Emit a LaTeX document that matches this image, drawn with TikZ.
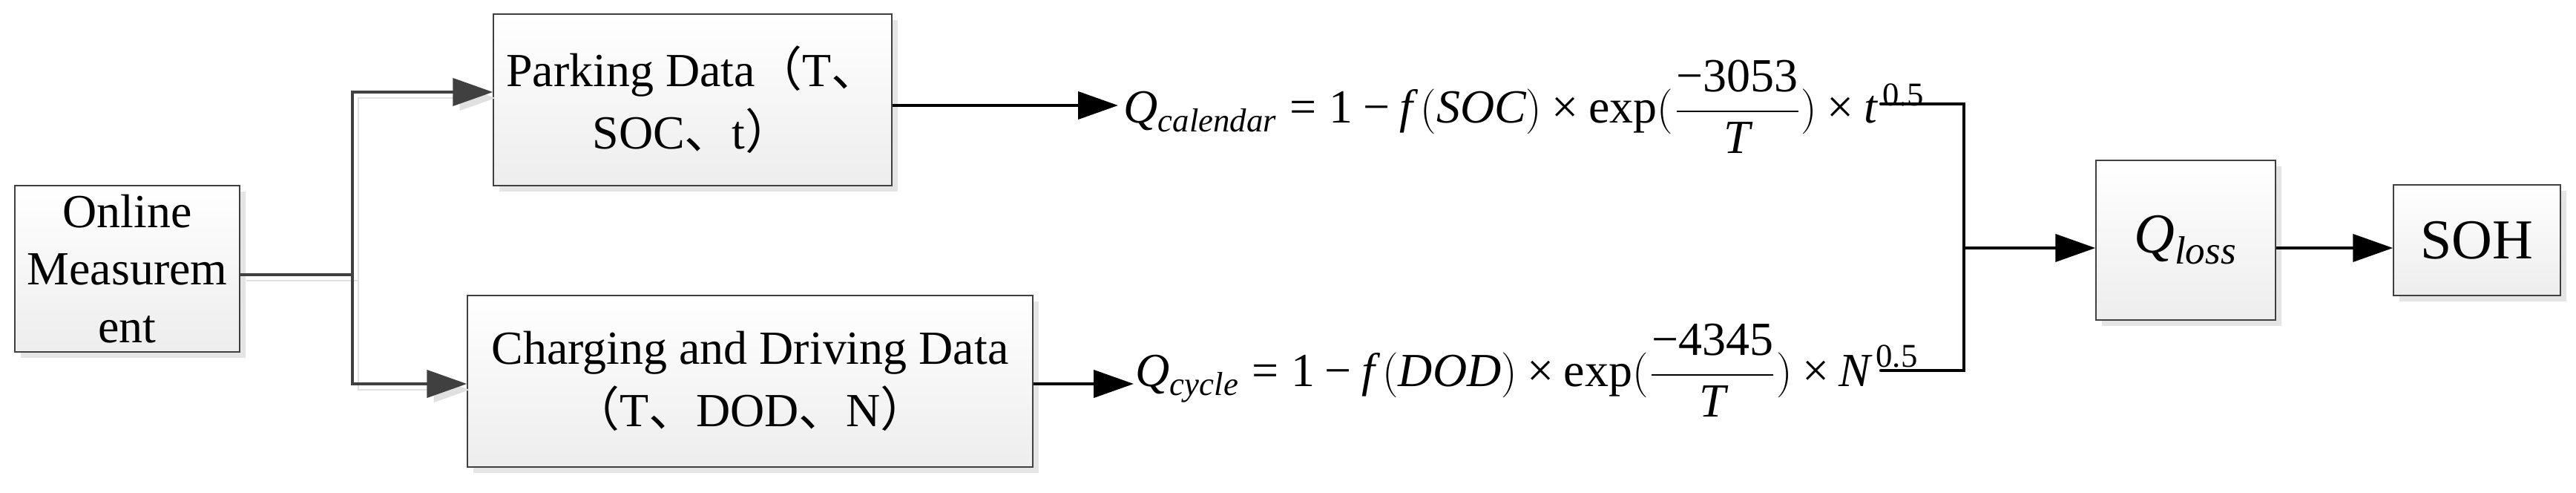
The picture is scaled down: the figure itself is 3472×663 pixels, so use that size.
\documentclass[tikz,border=0pt]{standalone}
\usepackage{amsmath}
\usepackage{fontspec}
\setmainfont{Liberation Serif}
\newfontfamily\cjk{Noto Sans CJK SC}
\usetikzlibrary{arrows.meta,shadows}
\newcommand{\teq}{\mathrel{\textrm{=}}}
\newcommand{\tminus}{\mathbin{\textrm{−}}}
\newcommand{\ttimes}{\mathbin{\textrm{×}}}

\begin{document}
\begin{tikzpicture}[x=0.1mm,y=-0.1mm,
  box/.style={draw=black!75,line width=0.15mm,top color=white,bottom color=black!7,
    drop shadow={shadow xshift=0.8mm,shadow yshift=-0.8mm,fill=black!10,opacity=1},
    align=center,inner sep=0pt,font=\fontsize{18.2pt}{24pt}\selectfont},
  bigbox/.style={box,font=\fontsize{21.6pt}{26pt}\selectfont},
  graywire/.style={draw=black!75,line width=0.42mm,-{Triangle[length=5.4mm,width=3.7mm]},
    preaction={draw=black!12,transform canvas={shift={(0.8mm,-0.8mm)}}}},
  blackwire/.style={draw=black,line width=0.42mm,-{Triangle[length=5.4mm,width=3.7mm]}},
  plainwire/.style={draw=black,line width=0.42mm,line cap=round},
  formula/.style={anchor=base west,inner sep=0pt,font=\fontsize{18.2pt}{22pt}\selectfont}]
\useasboundingbox (0,0) rectangle (3472,663);

\node [box,minimum width=30.3mm,minimum height=22.4mm,font=\fontsize{18.2pt}{22pt}\selectfont]
  (online) at (171.5,362) {Online\\Measurem\\ent};
\node [box,minimum width=53.7mm,minimum height=23.1mm] (parking) at (933.5,134.5)
  {Parking Data{\cjk （}T{\cjk 、}\\SOC{\cjk 、}t{\cjk ）}};
\node [box,minimum width=76.2mm,minimum height=23.1mm] (charging) at (1011,513.5)
  {Charging and Driving Data\\{\cjk （}T{\cjk 、}DOD{\cjk 、}N{\cjk ）}};
\node [bigbox,minimum width=24.2mm,minimum height=21.5mm] (qloss) at (2946,323.5)
  {$\textit{Q}_{\textit{loss}}$};
\node [bigbox,minimum width=22.5mm,minimum height=14.9mm] (soh) at (3338.5,323.5) {SOH};

\node [formula] (qcal) at (1514,165)
  {$\textit{Q}_{\textit{calendar}}\teq\textrm{1}\tminus\textit{f}\,(\textit{SOC})\ttimes\textrm{exp}(\dfrac{\textrm{−3053}}{\textit{T}})\ttimes\textit{t}^{\,\textrm{0.5}}$};
\node [formula] (qcyc) at (1530,520)
  {$\textit{Q}_{\textit{cycle}}\teq\textrm{1}\tminus\textit{f}\,(\textit{DOD})\ttimes\textrm{exp}(\dfrac{\textrm{−4345}}{\textit{T}})\ttimes\textit{N}^{\,\textrm{0.5}}$};

\coordinate (fork) at (475,370);
\coordinate (ptop) at (475,124);
\coordinate (pbot) at (475,517);
\coordinate (calin) at (1507,142);
\coordinate (cycin) at (1528,517);
\coordinate (calout) at (2535,140);
\coordinate (cycout) at (2535,499);
\coordinate (joint) at (2647,334);

\draw [graywire] (online.east |- fork) -- (fork) -- (ptop) -- (ptop -| parking.west);
\draw [graywire] (fork) -- (pbot) -- (pbot -| charging.west);
\draw [blackwire] (parking.east |- calin) -- (calin);
\draw [blackwire] (charging.east |- cycin) -- (cycin);
\draw [plainwire] (calout) -| (joint |- cycout) -- (cycout);
\draw [blackwire] (joint) -- (joint -| qloss.west);
\draw [blackwire] (qloss.east |- joint) -- (soh.west |- joint);
\end{tikzpicture}
\end{document}
